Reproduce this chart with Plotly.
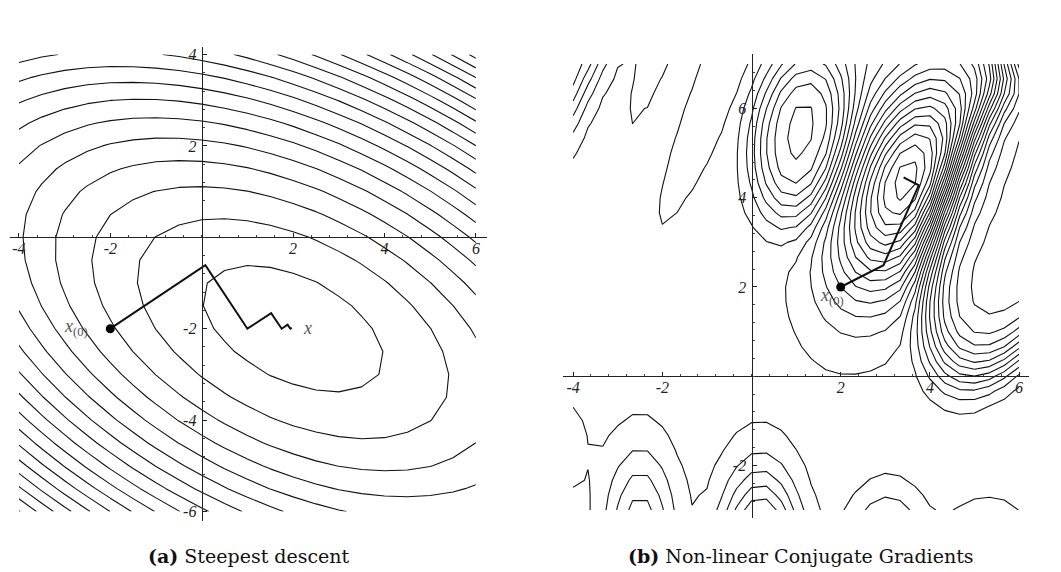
import numpy as np
import plotly.graph_objects as go

W, H = 1061, 572

# ---------------- panel (a): quadratic form f(x) = 1/2 x'Ax - b'x ----------------
A_mat = np.array([[3.0, 2.0], [2.0, 6.0]])
b_vec = np.array([2.0, -8.0])
a_x1 = np.linspace(-4, 6, 21)
a_x2 = np.linspace(-6, 4, 21)
a_level_start, a_level_step, a_level_end = -5.4, 9.05, 168.0

# steepest-descent iterates
sd_x1 = [-2.0, 0.08, 1.0, 1.52, 1.75, 1.88, 1.94, 1.97]
sd_x2 = [-2.0, -0.61, -2.0, -1.66, -2.0, -1.91, -2.0, -1.98]

# ---------------- panel (b): non-quadratic surface (sum of shaped bumps) ----------------
b_x1 = np.linspace(-4, 6, 31)
b_x2 = np.linspace(-3, 7, 31)
#           A hill  B pit  P mesa  top hill tongue  V ridge corner  edge   bump1  bump2  bump3  bump4
bump_cx = [1.15, 3.45, 6.0, 6.0, -0.2, -1.79, -4.05, -4.9, -2.5, 0.2, 3.05, 5.3]
bump_cy = [5.4, 4.4, 3.7, 7.35, 7.81, 8.32, 7.05, -1.55, -3.6, -4.5, -3.9, -4.2]
bump_amp = [7.0, -14.0, 11.2, 9.0, -1.2, 1.2, 5.5, 3.8, 4.5, 9.4, 4.1, 4.0]
bump_sa = [1.4, 1.74, 2.8, 0.45, 3.3, 2.32, 8.0, 0.7, 1.36, 1.48, 0.86, 0.75]
bump_sb = [0.75, 0.85, 1.25, 0.45, 0.386, 0.30, 0.46, 0.6, 0.544, 0.595, 0.555, 0.6]
bump_ang = [82, 68, 70, 90, 67.6, 72, 64.5, 90, 90, 90, 90, 90]
bump_pow = [1.5, 1, 3, 1, 1, 1, 1, 1, 1, 1, 1, 1]
b_level_start, b_level_step, b_level_end = -19.42, 1.0, 14.6

# non-linear CG iterates
cg_x1 = [2.0, 2.96, 3.75, 3.41]
cg_x2 = [2.0, 2.49, 4.28, 4.46]

# tick labels
a_xticks = [-4, -2, 2, 4, 6]
a_yticks = [-6, -4, -2, 2, 4]
b_xticks = [-4, -2, 2, 4, 6]
b_yticks = [-2, 2, 4, 6]

# ---------------- surfaces ----------------
XA, YA = np.meshgrid(a_x1, a_x2)
ZA = 0.5 * (A_mat[0, 0] * XA**2 + 2 * A_mat[0, 1] * XA * YA + A_mat[1, 1] * YA**2) \
    - (b_vec[0] * XA + b_vec[1] * YA)

XB, YB = np.meshgrid(b_x1, b_x2)
ZB = np.zeros_like(XB)
for cx, cy, amp, sa, sb, ang, pw in zip(bump_cx, bump_cy, bump_amp, bump_sa,
                                        bump_sb, bump_ang, bump_pow):
    t = np.deg2rad(ang)
    dx, dy = XB - cx, YB - cy
    u = dx * np.cos(t) + dy * np.sin(t)
    v = -dx * np.sin(t) + dy * np.cos(t)
    q = u**2 / (2 * sa**2) + v**2 / (2 * sb**2)
    ZB += amp * np.exp(-q**pw)

# ---------------- geometry (pixels) ----------------
PANELS = {
    "a": dict(ox=201.7, oy=237.3, ppu=45.7, xr=[-4.2, 6.24], yr=[-6.2, 4.17]),
    "b": dict(ox=751.5, oy=376.2, ppu=44.6, xr=[-4.22, 6.23], yr=[-3.18, 7.22]),
}

TICKFONT = dict(family="Liberation Serif", size=16, color="#222", style="italic")
LABELFONT = dict(family="Liberation Serif", size=19, color="#222")


def axes_for(p, xticks, yticks):
    xd = [(p["ox"] + p["xr"][0] * p["ppu"]) / W, (p["ox"] + p["xr"][1] * p["ppu"]) / W]
    yd = [(H - (p["oy"] - p["yr"][0] * p["ppu"])) / H, (H - (p["oy"] - p["yr"][1] * p["ppu"])) / H]
    common = dict(showgrid=False, zeroline=False, showline=True, linecolor="#222",
                  linewidth=1.2, ticks="inside", ticklen=4, tickwidth=1, tickcolor="#222",
                  tickfont=TICKFONT, anchor="free",
                  minor=dict(tickmode="linear", tick0=0, dtick=0.4, ticks="inside",
                             ticklen=2.5, tickcolor="#444"))
    xa = dict(common, domain=xd, range=p["xr"], position=(H - p["oy"]) / H,
              tickmode="array", tickvals=xticks, ticktext=[str(v) for v in xticks],
              ticklabelstandoff=-4)
    ya = dict(common, domain=yd, range=p["yr"], position=p["ox"] / W,
              tickmode="array", tickvals=yticks, ticktext=[str(v) for v in yticks],
              ticklabelstandoff=2)
    return xa, ya


fig = go.Figure()

contour_line = dict(color="#111", width=1.1, smoothing=0)
fig.add_trace(go.Contour(x=a_x1, y=a_x2, z=ZA, xaxis="x", yaxis="y",
                         autocontour=False,
                         contours=dict(coloring="none", start=a_level_start,
                                       end=a_level_end, size=a_level_step),
                         line=contour_line, showscale=False, hoverinfo="skip"))
fig.add_trace(go.Contour(x=b_x1, y=b_x2, z=ZB, xaxis="x2", yaxis="y2",
                         autocontour=False,
                         contours=dict(coloring="none", start=b_level_start,
                                       end=b_level_end, size=b_level_step),
                         line=contour_line, showscale=False, hoverinfo="skip"))

# iterate paths
fig.add_trace(go.Scatter(x=sd_x1, y=sd_x2, mode="lines", xaxis="x", yaxis="y",
                         line=dict(color="#111", width=2), hoverinfo="skip"))
fig.add_trace(go.Scatter(x=sd_x1[:1], y=sd_x2[:1], mode="markers", xaxis="x", yaxis="y",
                         marker=dict(color="black", size=9), hoverinfo="skip"))
fig.add_trace(go.Scatter(x=cg_x1, y=cg_x2, mode="lines", xaxis="x2", yaxis="y2",
                         line=dict(color="#111", width=2), hoverinfo="skip"))
fig.add_trace(go.Scatter(x=cg_x1[:1], y=cg_x2[:1], mode="markers", xaxis="x2", yaxis="y2",
                         marker=dict(color="black", size=9), hoverinfo="skip"))

xa1, ya1 = axes_for(PANELS["a"], a_xticks, a_yticks)
xa2, ya2 = axes_for(PANELS["b"], b_xticks, b_yticks)

annotations = []


def label(text, x, y, xref, yref, font=LABELFONT, **kw):
    annotations.append(dict(text=text, x=x, y=y, xref=xref, yref=yref, showarrow=False,
                            xanchor="center", yanchor="middle", font=font, **kw))


# axis names
label("<i>x</i><sub>1</sub>", 6.78, 0.0, "x", "y")
label("<i>x</i><sub>2</sub>", 0.0, 4.86, "x", "y")
label("<i>x</i><sub>1</sub>", 6.65, 0.0, "x2", "y2")
label("<i>x</i><sub>2</sub>", 0.0, 7.87, "x2", "y2")
# point labels
gray = dict(family="Liberation Serif", size=18, color="#555")
label("<i>x</i><sub>(0)</sub>", -2.75, -1.98, "x", "y", font=gray)
label("<i>x</i>", 2.32, -1.98, "x", "y", font=gray)
label("<i>x</i><sub>(0)</sub>", 1.8, 1.78, "x2", "y2", font=gray)
# captions
capfont = dict(family="DejaVu Serif", size=19, color="#111")
label("<b>(a)</b> Steepest descent", 249 / W, 1 - 556 / H, "paper", "paper", font=capfont)
label("<b>(b)</b> Non-linear Conjugate Gradients", 801 / W, 1 - 556 / H, "paper", "paper",
      font=capfont)

fig.update_layout(width=W, height=H, margin=dict(l=0, r=0, t=0, b=0),
                  paper_bgcolor="white", plot_bgcolor="rgba(0,0,0,0)",
                  showlegend=False, xaxis=xa1, yaxis=ya1, xaxis2=xa2, yaxis2=ya2,
                  annotations=annotations)

fig.write_html("out.html")
